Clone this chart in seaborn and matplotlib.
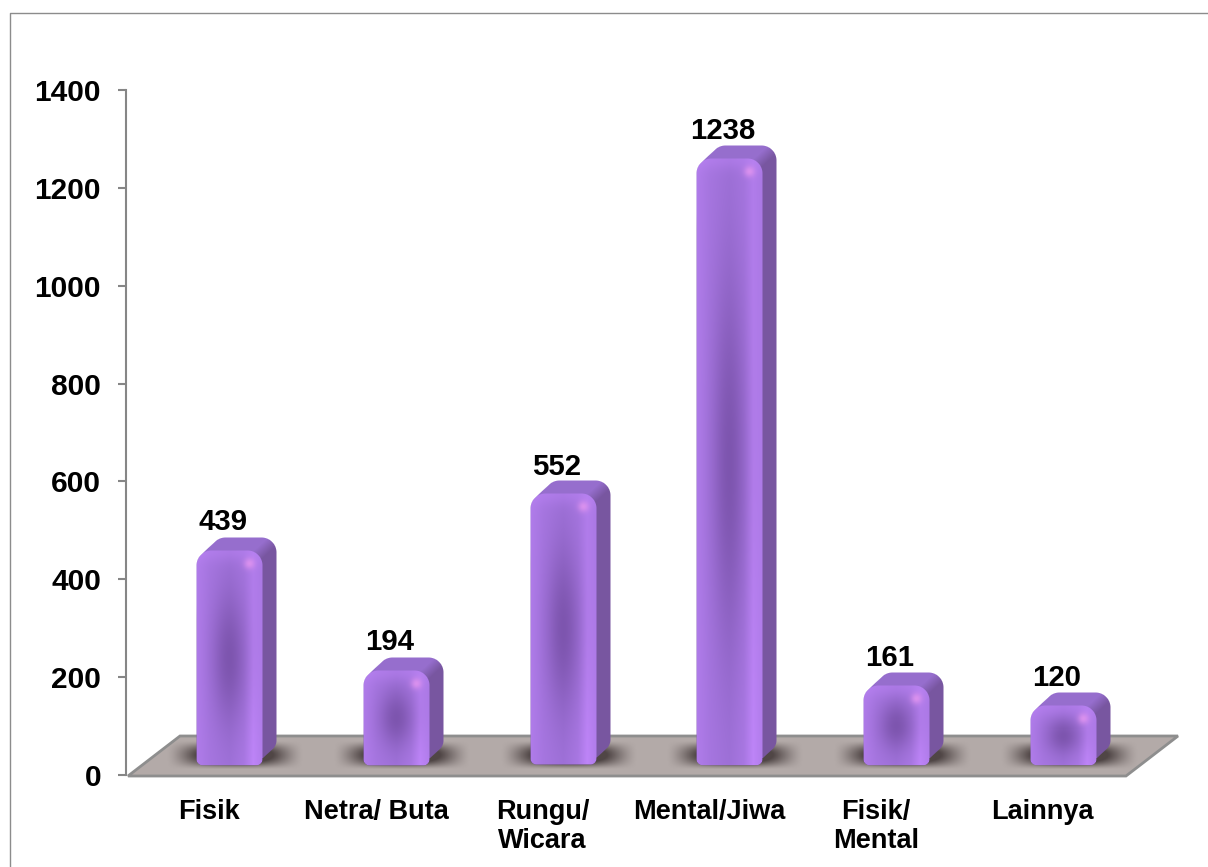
import numpy as np
import matplotlib
matplotlib.use('Agg')
import matplotlib.pyplot as plt
from matplotlib.lines import Line2D
from matplotlib.patches import Polygon
import seaborn as sns

categories = ['Fisik', 'Netra/ Buta', 'Rungu/\nWicara', 'Mental/Jiwa', 'Fisik/\nMental', 'Lainnya']
values = [439, 194, 552, 1238, 161, 120]
y_ticks = [0, 200, 400, 600, 800, 1000, 1200, 1400]

W, H = 1208, 867
# pixel layout of the fake 3d chart
AX_L, AX_R, AX_T, AX_B = 126, 1126, 90, 775
SHIFT_X, SHIFT_Y = 20, 10   # front face of the bars vs the axis
DEPTH_X, DEPTH_Y = 14, 13   # extrusion of the bars
FLOOR_X, FLOOR_Y = 52, 39

sns.set_style('white')
plt.rcParams['font.family'] = ['Liberation Sans', 'DejaVu Sans']
plt.rcParams['font.weight'] = 'bold'

BASE = np.array([160, 114, 218]) / 255
DARK = np.array([112, 74, 158]) / 255
LIGHT = np.array([192, 134, 250]) / 255
SIDE = np.array([120, 86, 160]) / 255
TOP = np.array([150, 110, 205]) / 255
SPOT = np.array([228, 150, 240]) / 255


def rbox_sdf(x, y, x0, y0, x1, y1, r):
    cx, cy = (x0 + x1) / 2, (y0 + y1) / 2
    qx = np.abs(x - cx) - (x1 - x0) / 2 + r
    qy = np.abs(y - cy) - (y1 - y0) / 2 + r
    return np.hypot(np.maximum(qx, 0), np.maximum(qy, 0)) + np.minimum(np.maximum(qx, qy), 0) - r


def bar_image(fw, fh):
    # rgba picture of one bar: y goes downwards, front face at lower left
    iw, ih = int(fw + DEPTH_X + 2), int(fh + DEPTH_Y + 2)
    x, y = np.meshgrid(np.arange(iw) + 0.5, np.arange(ih) + 0.5)
    x0, y0, x1, y1 = 0.5, DEPTH_Y + 0.5, fw + 0.5, DEPTH_Y + fh + 0.5
    # big radius on top, small at the foot of the bar
    r = np.where(y < (y0 + y1) / 2, 15.0, 6.0)
    front = rbox_sdf(x, y, x0, y0, x1, y1, r)
    hull = front.copy()
    for t in np.linspace(0, 1, 30):
        rt = np.where(y + t * DEPTH_Y < (y0 + y1) / 2, 15.0, 12.0)
        hull = np.minimum(hull, rbox_sdf(x - t * DEPTH_X, y + t * DEPTH_Y, x0, y0, x1, y1, rt))

    # top against side, blended along the corner diagonal
    side_amt = np.clip(((x - (x1 - 3)) * DEPTH_Y + (y - (y0 + 3)) * DEPTH_X) / 220 + 0.5, 0, 1)
    rgb = TOP[None, None] * (1 - side_amt[..., None]) + SIDE[None, None] * side_amt[..., None]

    u = (x - x0) / fw
    v = (y - y0) / fh
    # bright stripe on the right gets stronger towards the foot
    stripe = np.interp(u, [0, 0.2, 0.5, 0.72, 0.86, 1], [0.5, 0.2, 0.0, 0.3, 0.95, 0.55])
    stripe = stripe * np.where(u > 0.5, 0.55 + 0.45 * np.clip(v, 0, 1), 1.0)
    face = BASE[None, None] * (1 - stripe[..., None]) + LIGHT[None, None] * stripe[..., None]
    # dark blob in the middle
    blob = np.exp(-((u - 0.5) / 0.26) ** 2 - ((v - 0.5) / 0.3) ** 2)[..., None]
    face = face * (1 - 0.72 * blob) + DARK[None, None] * 0.72 * blob
    # light rim at the top and the highlight at the corner
    rim = np.exp(-(np.maximum(y - y0, 0) / 11) ** 2)[..., None]
    face = face * (1 - 0.4 * rim) + LIGHT[None, None] * 0.4 * rim
    spot = np.exp(-(((x - (x1 - 13)) / 5.5) ** 2 + ((y - (y0 + 13)) / 5.5) ** 2))[..., None]
    face = face * (1 - 0.8 * spot) + SPOT[None, None] * 0.8 * spot

    in_front = np.clip(0.5 - front, 0, 1)[..., None]
    rgb = rgb * (1 - in_front) + face * in_front
    alpha = np.clip(0.5 - hull, 0, 1)[..., None]
    return np.dstack([rgb, alpha])


def shadow_image(iw, ih):
    x, y = np.meshgrid(np.linspace(-1, 1, iw), np.linspace(-1, 1, ih))
    window = np.clip(1 - x ** 2, 0, 1) * np.clip(1 - y ** 2, 0, 1)
    a = np.clip(window ** 1.6 * 1.5, 0, 0.82)
    img = np.zeros((ih, iw, 4))
    img[..., :3] = np.array([58, 48, 48]) / 255
    img[..., 3] = a
    return img


def px_box(ax, x0, x1, y_top, y_bot):
    # pixel box (y from the top of the picture) to data extent
    inv = ax.transData.inverted()
    (a, b), (c, d) = inv.transform([(x0, H - y_bot), (x1, H - y_top)])
    return [a, c, b, d]


fig = plt.figure(figsize=(W / 100, H / 100), dpi=100, facecolor='white')
# chart frame: only the top and left edges fall inside the picture
fig.add_artist(Line2D([9.5 / W, 9.5 / W, 1], [0, 1 - 12.5 / H, 1 - 12.5 / H], transform=fig.transFigure,
                      color='#8c8c8c', linewidth=1))

ax = fig.add_axes([AX_L / W, (H - AX_B) / H, (AX_R - AX_L) / W, (AX_B - AX_T) / H])
ax.set_xlim(-0.5, len(categories) - 0.5)
ax.set_ylim(0, 1400)
ax.set_yticks(y_ticks)
ax.set_xticks(range(len(categories)))
ax.set_xticklabels(categories, fontsize=19.5, fontweight='bold', color='black', linespacing=1.15)
ax.tick_params(axis='x', length=0, pad=17)
ax.tick_params(axis='y', left=True, length=6, width=1.5, color='#868686', direction='out',
               labelsize=21.5, labelcolor='black', pad=12)
for lab in ax.get_xticklabels():
    lab.set_verticalalignment('top')
sns.despine(ax=ax, top=True, right=True, bottom=True)
ax.spines['left'].set_color('#868686')
ax.spines['left'].set_linewidth(1.5)

# floor
to_px = ax.transData.inverted()
floor_px = [(AX_L + 2, H - AX_B - 1), (AX_R, H - AX_B - 1),
            (AX_R + FLOOR_X, H - AX_B + FLOOR_Y), (AX_L + FLOOR_X + 2, H - AX_B + FLOOR_Y)]
ax.add_patch(Polygon(to_px.transform(floor_px), closed=True, clip_on=False,
                     facecolor='#b3aaa8', edgecolor='#8e8e8e', linewidth=2, zorder=1))

# bars live in a second axes, slid up and right like the 3d front plane
ax_bar = fig.add_axes([(AX_L + SHIFT_X) / W, (H - AX_B + SHIFT_Y) / H, (AX_R - AX_L) / W, (AX_B - AX_T) / H])
ax_bar.patch.set_alpha(0)
sns.barplot(x=categories, y=values, ax=ax_bar, color='#a878e4', width=0.396, saturation=1, zorder=2)
ax_bar.set_xlim(-0.5, len(categories) - 0.5)
ax_bar.set_ylim(0, 1400)
ax_bar.axis('off')

fig.canvas.draw()
for bar in list(ax_bar.patches):
    (x0, y0), (x1, y1) = ax_bar.transData.transform([(bar.get_x(), 0), (bar.get_x() + bar.get_width(), bar.get_height())])
    bar.set_visible(False)
    fw, fh = x1 - x0, y1 - y0
    left, base = x0, H - y0

    sh = shadow_image(130, 30)
    ax_bar.imshow(sh, extent=px_box(ax_bar, left - 30, left + fw + 42, base - 24, base + 5),
                  aspect='auto', zorder=2, clip_on=False, interpolation='bilinear')

    img = bar_image(fw, fh)
    ih, iw = img.shape[:2]
    ax_bar.imshow(img, extent=px_box(ax_bar, left, left + iw, base - ih + 1, base + 1),
                  aspect='auto', zorder=3, clip_on=False, interpolation='nearest')
ax_bar.set_xlim(-0.5, len(categories) - 0.5)
ax_bar.set_ylim(0, 1400)

for i, v in enumerate(values):
    ax_bar.annotate(str(v), (i, v), xytext=(-4.7, 10), textcoords='offset points', ha='center', va='bottom',
                    fontsize=21.2, fontweight='bold', color='black', zorder=5)

fig.savefig('out.png', dpi=100, facecolor='white')
